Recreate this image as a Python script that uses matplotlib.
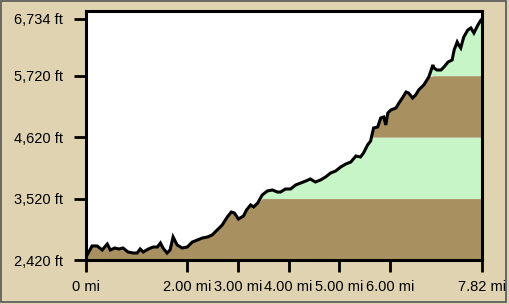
import numpy as np
import matplotlib
matplotlib.use("Agg")
import matplotlib.pyplot as plt
from matplotlib.patches import Rectangle

# profil: vzdalenost (mi) a nadmorska vyska (ft)
dist_mi = [
    0.00, 0.12, 0.22, 0.32, 0.42, 0.48, 0.57, 0.65, 0.73, 0.83, 0.93, 1.01,
    1.07, 1.13, 1.23, 1.33, 1.41, 1.47, 1.52, 1.60, 1.66, 1.72, 1.80, 1.90,
    2.00, 2.10, 2.20, 2.30, 2.40, 2.49, 2.59, 2.69, 2.79, 2.87, 2.93, 3.01,
    3.11, 3.17, 3.25, 3.31, 3.39, 3.48, 3.58, 3.68, 3.78, 3.84, 3.94, 4.04,
    4.14, 4.24, 4.34, 4.43, 4.53, 4.63, 4.73, 4.83, 4.93, 5.03, 5.13, 5.23,
    5.33, 5.42, 5.48, 5.56, 5.62, 5.66, 5.68, 5.76, 5.82, 5.88, 5.92, 5.96,
    6.02, 6.12, 6.18, 6.26, 6.32, 6.37, 6.45, 6.51, 6.57, 6.67, 6.77, 6.85,
    6.87, 6.93, 7.01, 7.07, 7.15, 7.23, 7.27, 7.33, 7.36, 7.40, 7.46, 7.54,
    7.60, 7.66, 7.74, 7.80, 7.82,
]
elev_ft = [
    2474, 2671, 2671, 2599, 2706, 2599, 2635, 2617, 2635, 2563, 2545, 2545,
    2617, 2563, 2617, 2653, 2653, 2724, 2635, 2545, 2599, 2832, 2689, 2635,
    2653, 2742, 2778, 2814, 2832, 2868, 2957, 3047, 3190, 3279, 3261, 3154,
    3208, 3315, 3405, 3369, 3440, 3584, 3655, 3673, 3637, 3637, 3691, 3691,
    3763, 3798, 3834, 3870, 3816, 3852, 3906, 3977, 4013, 4085, 4138, 4174,
    4282, 4264, 4335, 4479, 4550, 4711, 4783, 4801, 4962, 4980, 4837, 5051,
    5105, 5141, 5230, 5338, 5427, 5409, 5320, 5374, 5463, 5553, 5696, 5911,
    5857, 5821, 5821, 5875, 5964, 6000, 6179, 6322, 6269, 6215, 6412, 6537,
    6573, 6483, 6627, 6716, 6734,
]

y_ticks = [2420, 3520, 4620, 5720, 6734]
y_labels = ["2,420 ft", "3,520 ft", "4,620 ft", "5,720 ft", "6,734 ft"]
x_ticks = [0, 2, 3, 4, 5, 6, 7.82]
x_labels = ["0 mi", "2.00 mi", "3.00 mi", "4.00 mi", "5.00 mi", "6.00 mi", "7.82 mi"]

BG = "#dfd3b2"
BROWN = "#a89060"
GREEN = "#c8f5c8"

x = np.array(dist_mi)
y = np.array(elev_ft)

fig = plt.figure(figsize=(5.1, 3.04), dpi=100, facecolor=BG)
ax = fig.add_axes([86 / 510, 44 / 304, 396 / 510, 249 / 304])
ax.set_facecolor("white")

# pruhy pod krivkou mezi hodnotami na ose y
for i in range(len(y_ticks) - 1):
    lo, hi = y_ticks[i], y_ticks[i + 1]
    col = BROWN if i % 2 == 0 else GREEN
    ax.fill_between(x, lo, np.minimum(y, hi), where=y > lo,
                    interpolate=True, color=col, linewidth=0)

ax.plot(x, y, color="black", linewidth=2.2, solid_joinstyle="miter")

ax.set_xlim(0, 7.82)
ax.set_ylim(2420, 6877)

font = ["Liberation Sans Narrow", "Liberation Sans", "DejaVu Sans"]
ax.set_yticks(y_ticks)
ax.set_yticklabels(y_labels, family=font, fontsize=10.5)
ax.set_xticks(x_ticks)
ax.set_xticklabels(x_labels, family=font, fontsize=10.5)
ax.tick_params(axis="both", direction="out", length=8.5, width=2, color="black")
ax.tick_params(axis="y", pad=8)
ax.tick_params(axis="x", pad=6)

for s in ax.spines.values():
    s.set_linewidth(2.2)
    s.set_color("black")

# ramecek kolem obrazku
fig.patches.append(Rectangle((0.001, 0.008), 0.992, 0.99, transform=fig.transFigure,
                             fill=False, edgecolor="#555555", linewidth=1.2))

fig.savefig("out.png", dpi=100, facecolor=BG)
